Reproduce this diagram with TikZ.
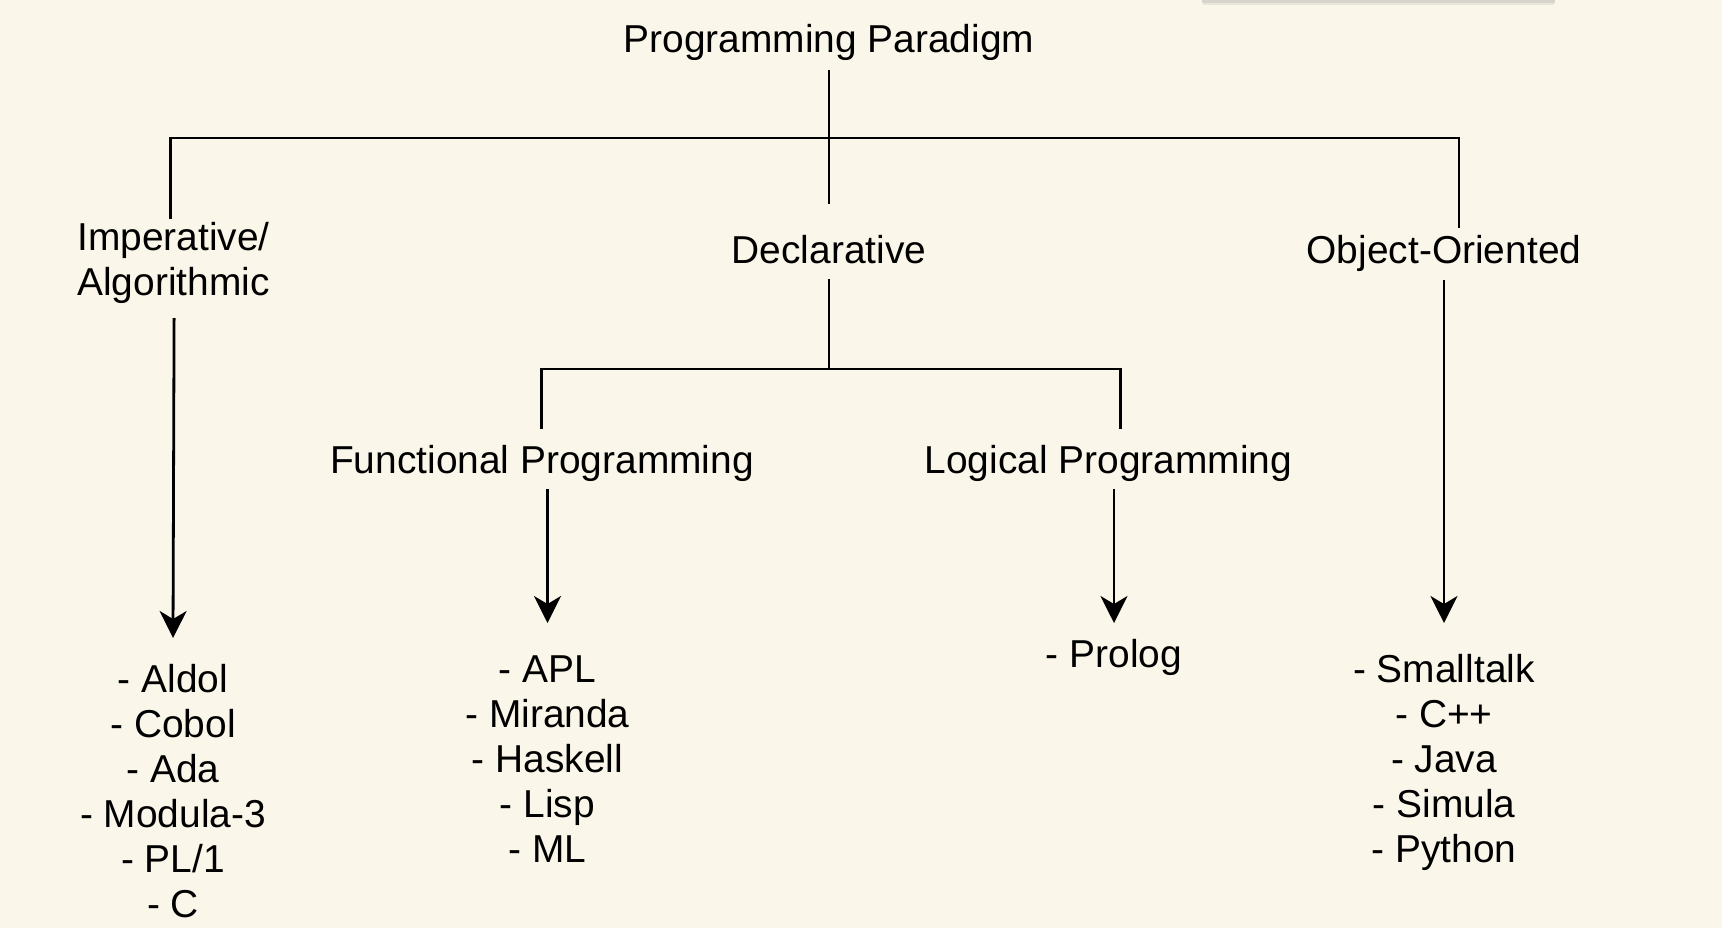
\documentclass[tikz,border=0pt]{standalone}
\usepackage{fontspec}
\setmainfont{Liberation Sans}
\usetikzlibrary{arrows.meta,calc}
\definecolor{bgcream}{RGB}{250,247,234}
\definecolor{barGray}{RGB}{214,212,204}
\begin{document}
\begin{tikzpicture}[x=0.5pt,y=-0.5pt,
  lbl/.style={inner sep=0pt, font=\fontsize{19.45}{22.5}\selectfont, text=black},
  conn/.style={line width=1.4pt, draw=black},
  arr/.style={conn, -{Stealth[length=13.5pt,width=13.5pt,inset=4pt]}}]
\fill[bgcream] (0,0) rectangle (1722,928);
\useasboundingbox (0,0) rectangle (1722,928);
\fill[barGray] (1202,0) rectangle (1555,2.5);
\fill[barGray!50!bgcream] (1203,2.5) rectangle (1554,4.5);

% nodes
\node[lbl, anchor=base] (title) at (829,52) {Programming Paradigm};
\node[lbl, anchor=north west, align=left] (imp) at (77,218.5) {\strut Imperative/\\Algorithmic};
\node[lbl, anchor=base] (decl) at (829,263) {Declarative};
\node[lbl, anchor=base] (oo) at (1444,263) {Object-Oriented};
\node[lbl, anchor=base] (func) at (542,473) {Functional Programming};
\node[lbl, anchor=base] (logic) at (1108.5,473) {Logical Programming};
\node[lbl, anchor=north, align=center] (il) at (173,660.5) {\strut - Aldol\\- Cobol\\- Ada\\- Modula-3\\- PL/1\\- C};
\node[lbl, anchor=north, align=center] (fl) at (547.5,650.5) {\strut - APL\\- Miranda\\- Haskell\\- Lisp\\- ML};
\node[lbl, anchor=base] (prolog) at (1114,667) {- Prolog};
\node[lbl, anchor=north, align=center] (ool) at (1444,650.5) {\strut - Smalltalk\\- C++\\- Java\\- Simula\\- Python};

% connectors
\coordinate (tB) at ($(title.base)+(0,18)$);
\draw[conn] (tB) -- ($(decl.base)+(0,-59)$);
\draw[conn] (tB) |- ($(imp.north)+(-3.5,-80.5)$) -- ($(imp.north)+(-3.5,0)$);
\draw[conn] (tB) |- ($(oo.base)+(15,-125)$) -- ($(oo.base)+(15,-35)$);
\draw[arr] ($(imp.north)+(0.5,99.5)$) -- ($(il.north)+(0,-22.5)$);
\draw[arr] ($(oo.base)+(0,17)$) -- ($(ool.north)+(0,-27.5)$);
\coordinate (dB) at ($(decl.base)+(0,16)$);
\draw[conn] (dB) |- ($(func.base)+(-0.5,-104)$) -- ($(func.base)+(-0.5,-44)$);
\draw[conn] (dB) |- ($(logic.base)+(12,-104)$) -- ($(logic.base)+(12,-44)$);
\draw[arr] ($(func.base)+(5.5,16)$) -- ($(fl.north)+(0,-27.5)$);
\draw[arr] ($(logic.base)+(5.5,16)$) -- ($(prolog.base)+(0,-44)$);
\end{tikzpicture}
\end{document}
